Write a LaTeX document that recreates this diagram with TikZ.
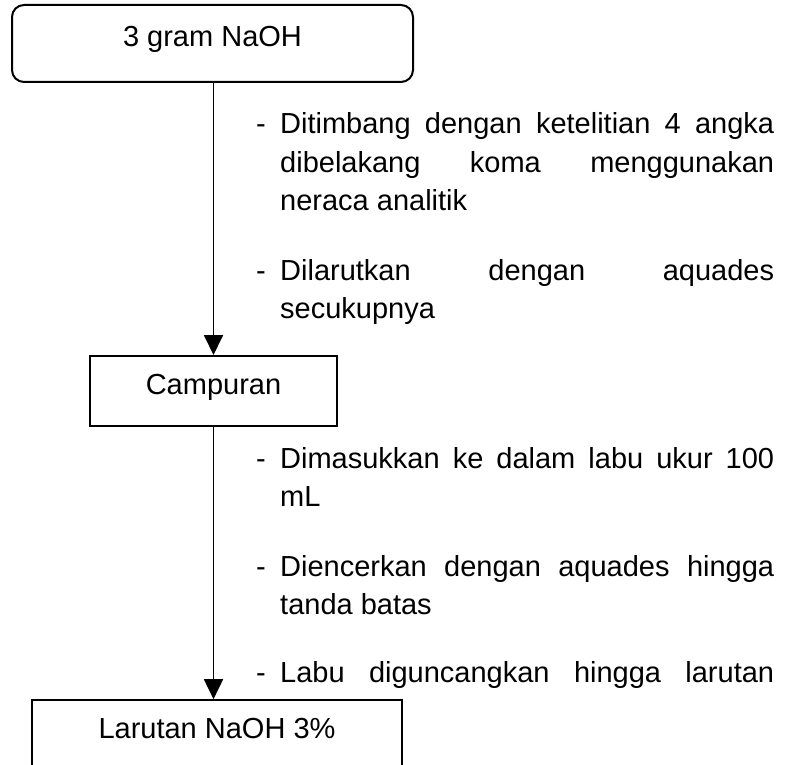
\documentclass[tikz,border=0pt]{standalone}
\usepackage{fontspec}
\setmainfont{Liberation Sans}
\usetikzlibrary{arrows.meta}
% a line of a justified paragraph, stretched to the full width
\newcommand\fullline[1]{\makebox[\linewidth][s]{#1}}
\begin{document}
\begin{tikzpicture}[x=1pt,y=-1pt,
  every node/.style={font=\fontsize{29}{38.5}\selectfont, inner sep=0pt},
  boxstyle/.style={draw, line width=2pt, text height=21pt, text depth=15pt},
  flow/.style={line width=1.9pt, -{Triangle[width=19pt,length=20pt]}},
  dashmark/.style={anchor=base west},
  steptext/.style={anchor=base west}
]
\useasboundingbox (0,0) rectangle (804,765);
\clip (0,0) rectangle (804,765);

% process boxes
\node[boxstyle, rounded corners=12pt, minimum width=401pt, minimum height=77pt]
  (start) at (212.5,43.5) {3 gram NaOH};
\node[boxstyle, minimum width=247pt, minimum height=70pt]
  (mix) at (213.5,391) {Campuran};
\node[boxstyle, line width=1.7pt, minimum width=370pt, minimum height=70pt]
  (result) at (217,735) {Larutan NaOH 3\%};

% connectors
\draw[flow] (mix.north |- start.south) -- (mix.north);
\draw[flow] (mix.south) -- (mix.south |- result.north);

% steps between the first two boxes
\node[dashmark] (d1) at (256,134) {-};
\node[steptext] (s1) at (280,134) {\parbox[t]{494pt}{%
  \fullline{Ditimbang dengan ketelitian 4 angka}\\
  \fullline{dibelakang koma menggunakan}\\
  neraca analitik}};
\node[dashmark] (d2) at (256,280) {-};
\node[steptext] (s2) at (280,280) {\parbox[t]{494pt}{%
  \fullline{Dilarutkan dengan aquades}\\
  secukupnya}};

% steps between the last two boxes
\node[dashmark] (d3) at (256,468) {-};
\node[steptext] (s3) at (280,468) {\parbox[t]{494pt}{%
  \fullline{Dimasukkan ke dalam labu ukur 100}\\
  mL}};
\node[dashmark] (d4) at (256,576) {-};
\node[steptext] (s4) at (280,576) {\parbox[t]{494pt}{%
  \fullline{Diencerkan dengan aquades hingga}\\
  tanda batas}};
\begin{scope}
  \clip (0,0) rectangle (804,687);
  \node[dashmark] (d5) at (256,682) {-};
  \node[steptext] (s5) at (280,682) {\parbox[t]{494pt}{%
    \fullline{Labu diguncangkan hingga larutan}}};
\end{scope}
\end{tikzpicture}
\end{document}
